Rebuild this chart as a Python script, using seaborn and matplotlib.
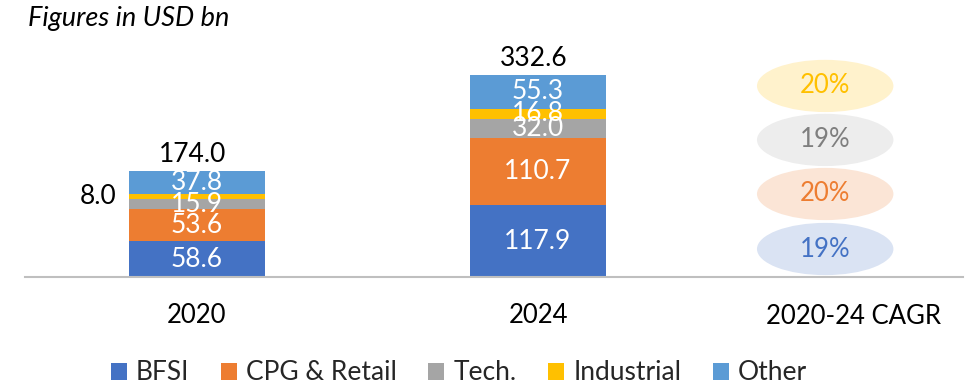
import matplotlib
matplotlib.use("Agg")
import matplotlib.pyplot as plt
from matplotlib.patches import Ellipse, Patch
import seaborn as sns
import pandas as pd
import numpy as np

# --- data -------------------------------------------------------------
years = ["2020", "2024"]
segments = ["BFSI", "CPG & Retail", "Tech.", "Industrial", "Other"]
bfsi = [58.6, 117.9]
cpg_retail = [53.6, 110.7]
tech = [15.9, 32.0]
industrial = [8.0, 16.8]
other = [37.8, 55.3]
totals = [174.0, 332.6]
cagr_labels = ["19%", "20%", "19%", "20%"]          # BFSI, CPG & Retail, Tech., Industrial
cagr_title = "2020-24 CAGR"
subtitle = "Figures in USD bn"

colors = ["#4472C4", "#ED7D31", "#A5A5A5", "#FFC000", "#5B9BD5"]
light_colors = ["#DAE3F3", "#FBE5D6", "#EDEDED", "#FFF2CC"]
cagr_text_colors = ["#4472C4", "#ED7D31", "#7F7F7F", "#FFC000"]

sns.set_theme(style="white")
plt.rcParams["font.family"] = ["Lato", "DejaVu Sans"]

FS = 19

W, H = 971, 387
fig = plt.figure(figsize=(W / 100, H / 100), dpi=100)
ax_l, ax_r, ax_b, ax_t = 25, 963, 277, 40
ax = fig.add_axes([ax_l / W, (H - ax_b) / H, (ax_r - ax_l) / W, (ax_b - ax_t) / H])

series = [bfsi, cpg_retail, tech, industrial, other]
df = pd.DataFrame({name: vals for name, vals in zip(segments, series)})
df["year"] = years
cum = df[segments].cumsum(axis=1)

# stacked bars: draw cumulative totals from the top layer downwards
bar_w = 0.40
for i in range(len(segments) - 1, -1, -1):
    sns.barplot(x=df["year"], y=cum[segments[i]], color=colors[i], width=bar_w,
                saturation=1, order=years, ax=ax, linewidth=0)

# segment labels
for j, yr in enumerate(years):
    base = 0.0
    for i, name in enumerate(segments):
        v = df.loc[j, name]
        mid = base + v / 2
        if yr == "2020" and name == "Industrial":
            ax.text(j - 0.29, mid, f"{v:.1f}", ha="center", va="center",
                    fontsize=FS, color="black")
        else:
            ax.text(j, mid, f"{v:.1f}", ha="center", va="center",
                    fontsize=FS, color="white")
        base += v
    ax.text(j - 0.012, totals[j] + 7, f"{totals[j]:.1f}", ha="center", va="bottom",
            fontsize=FS, color="black")

# CAGR bubbles
cx = 1.842
ell_w, ell_h = 0.40, 86
ell_y = [46.1, 136.7, 225.7, 314.6]
for k, lab in enumerate(cagr_labels):
    ax.add_patch(Ellipse((cx, ell_y[k]), ell_w, ell_h, facecolor=light_colors[k],
                         edgecolor="none", zorder=2))
    ax.text(cx, ell_y[k], lab, ha="center", va="center", fontsize=18.5,
            color=cagr_text_colors[k], zorder=3)

ax.set_xlim(-0.504, 2.246)
ax.set_ylim(0, (ax_b - ax_t) / 0.6073)
ax.set_xlabel("")
ax.set_ylabel("")
ax.set_yticks([])
ax.set_xticks([0, 1])
ax.set_xticklabels(years, fontsize=18.5)
ax.tick_params(axis="x", length=0, pad=19, colors="black")
ax.text(1.925, -0.115, cagr_title, transform=ax.get_xaxis_transform(), ha="center",
        va="top", fontsize=18.5, color="black")
for s in ["top", "right", "left"]:
    ax.spines[s].set_visible(False)
ax.spines["bottom"].set_color("#BFBFBF")
ax.spines["bottom"].set_linewidth(1.5)

fig.text(28 / W, 1 - 6 / H, subtitle, ha="left", va="top", fontsize=19.5,
         style="italic", color="black")

handles = [Patch(facecolor=c, edgecolor="none") for c in colors]
fig.legend(handles, segments, loc="center", bbox_to_anchor=(459 / W, 1 - 373 / H),
           ncol=5, frameon=False, fontsize=FS, handlelength=0.6, handleheight=0.6,
           handletextpad=0.35, columnspacing=1.2)

fig.savefig("out.png", dpi=100)
